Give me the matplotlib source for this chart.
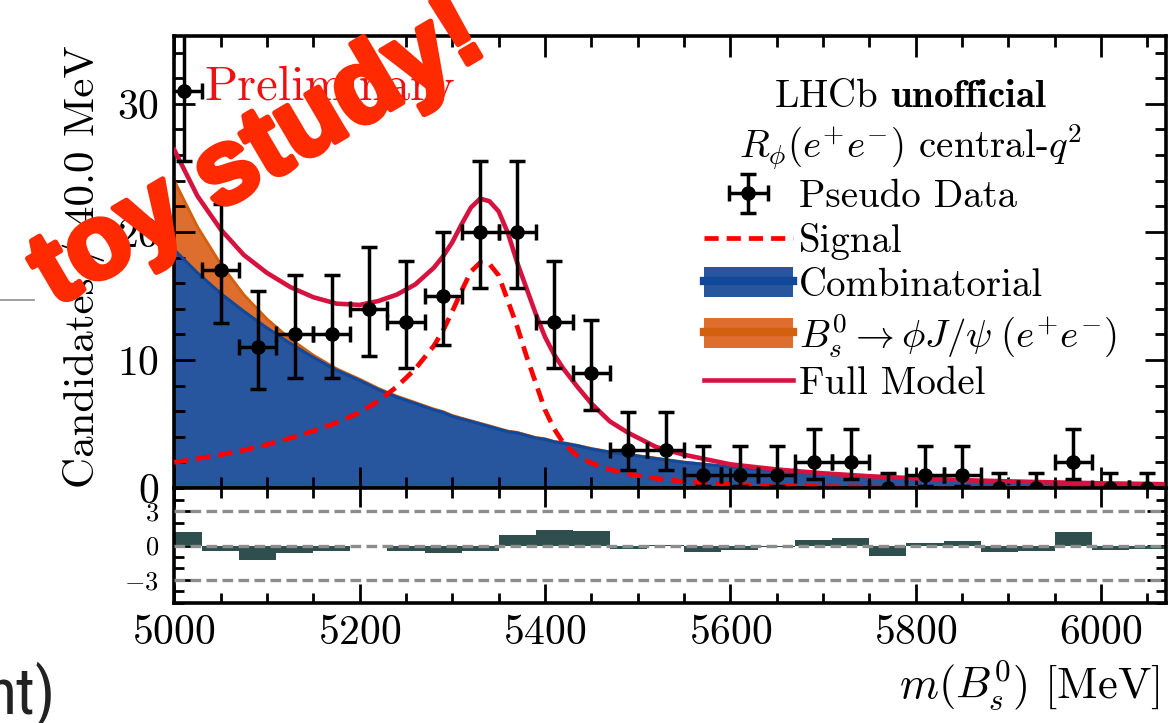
import numpy as np
import matplotlib
matplotlib.use('Agg')
import matplotlib.pyplot as plt
import matplotlib.patheffects as pe
from matplotlib.lines import Line2D
from matplotlib.patches import Patch
from matplotlib.ticker import MultipleLocator

# pseudo data, 40 MeV bins (first bin clipped at 5000)
bin_centres = [5010, 5050, 5090, 5130, 5170, 5210, 5250, 5290, 5330, 5370,
               5410, 5450, 5490, 5530, 5570, 5610, 5650, 5690, 5730, 5770,
               5810, 5850, 5890, 5930, 5970, 6010, 6050]
counts = [31, 17, 11, 12, 12, 14, 13, 15, 20, 20,
          13, 9, 3, 3, 1, 1, 1, 2, 2, 0,
          1, 1, 0, 0, 2, 0, 0]
err_low = [5.5, 4.1, 3.3, 3.4, 3.4, 3.7, 3.6, 3.8, 4.4, 4.4,
           3.6, 2.9, 1.6, 1.6, 0.83, 0.83, 0.83, 1.3, 1.3, 0.0,
           0.83, 0.83, 0.0, 0.0, 1.3, 0.0, 0.0]
err_high = [6.6, 5.2, 4.4, 4.6, 4.6, 4.8, 4.7, 5.0, 5.5, 5.5,
            4.7, 4.1, 2.9, 2.9, 2.3, 2.3, 2.3, 2.6, 2.6, 1.15,
            2.3, 2.3, 1.15, 1.15, 2.6, 1.15, 1.15]
pulls = [1.17, -0.44, -1.25, -0.64, -0.5, -0.05, -0.52, -0.67, -0.44, 0.93,
         1.37, 1.25, -0.29, 0.03, -0.6, -0.38, -0.15, 0.5, 0.67, -0.88,
         0.23, 0.35, -0.53, -0.44, 1.17, -0.35, -0.3]

# fit components
mass_curve = [5000, 5025, 5050, 5075, 5100, 5125, 5150, 5175, 5200, 5220,
              5240, 5260, 5280, 5290, 5300, 5310, 5320, 5330, 5340, 5350,
              5360, 5370, 5380, 5390, 5400, 5410, 5420, 5435, 5450, 5470,
              5490, 5520, 5550, 5600, 5650, 5700, 5750, 5800, 5850, 5900,
              5950, 6000, 6070]
comb_curve = [18.6, 16.8, 15.2, 13.8, 12.5, 11.3, 10.2, 9.2, 8.4, 7.7,
              7.1, 6.6, 6.1, 5.9, 5.6, 5.4, 5.2, 5.0, 4.8, 4.6,
              4.4, 4.3, 4.1, 3.9, 3.8, 3.6, 3.5, 3.3, 3.05, 2.8,
              2.6, 2.3, 2.0, 1.65, 1.35, 1.1, 0.9, 0.75, 0.6, 0.5,
              0.4, 0.34, 0.26]
bs_jpsi_curve = [5.4, 3.6, 2.3, 1.3, 0.7, 0.35, 0.18, 0.12, 0.1, 0.09,
                 0.08, 0.08, 0.07, 0.07, 0.07, 0.06, 0.06, 0.06, 0.06, 0.05,
                 0.05, 0.05, 0.05, 0.05, 0.05, 0.04, 0.04, 0.04, 0.04, 0.03,
                 0.03, 0.03, 0.03, 0.02, 0.02, 0.02, 0.02, 0.02, 0.01, 0.01,
                 0.01, 0.01, 0.01]
signal_curve = [2.0, 2.3, 2.6, 2.95, 3.4, 3.9, 4.45, 5.1, 5.9, 6.8,
                7.9, 9.3, 11.1, 12.3, 13.8, 15.4, 16.9, 17.6, 17.5, 16.6,
                14.6, 12.6, 10.3, 8.2, 6.1, 4.6, 3.5, 2.5, 1.95, 1.45,
                1.1, 0.75, 0.5, 0.28, 0.17, 0.11, 0.07, 0.05, 0.04, 0.03,
                0.02, 0.02, 0.01]
full_curve = [26.4, 22.8, 20.2, 18.2, 16.8, 15.7, 14.9, 14.4, 14.3, 14.6,
              15.1, 15.9, 17.2, 18.1, 19.2, 20.6, 21.9, 22.6, 22.4, 21.6,
              19.9, 17.6, 15.6, 13.6, 11.8, 10.4, 9.3, 7.9, 6.6, 5.2,
              4.3, 3.2, 2.6, 1.85, 1.45, 1.15, 0.92, 0.76, 0.62, 0.52,
              0.44, 0.37, 0.3]

COMB = '#27569e'
COMB_LINE = '#124899'
ORANGE = '#dd6e2d'
ORANGE_LINE = '#d2600f'
FULL = '#d6133f'
PULL = '#2f4f4f'
TOY = '#ff2a00'

plt.rcParams.update({
    'font.family': 'serif',
    'font.serif': ['cmr10'],
    'mathtext.fontset': 'cm',
    'axes.formatter.use_mathtext': True,
    'axes.linewidth': 2.6,
})

fig = plt.figure(figsize=(11.73, 7.23), dpi=100)
ax = fig.add_axes([0.1486, 0.325, 0.8454, 0.6252])
rax = fig.add_axes([0.1486, 0.166, 0.8454, 0.159], sharex=ax)

stack = np.add(comb_curve, bs_jpsi_curve)
ax.fill_between(mass_curve, 0, comb_curve, color=COMB, lw=0, zorder=1)
ax.fill_between(mass_curve, comb_curve, stack, color=ORANGE, lw=0, zorder=1)
ax.plot(mass_curve, stack, color=ORANGE_LINE, lw=2.0, zorder=2)
ax.plot(mass_curve, comb_curve, color=COMB_LINE, lw=2.2, zorder=2)
sig, = ax.plot(mass_curve, signal_curve, color='#ff0000', lw=3.4,
               ls=(0, (3.0, 1.7)), zorder=3)
full, = ax.plot(mass_curve, full_curve, color=FULL, lw=3.3, zorder=3.5)
data = ax.errorbar(bin_centres, counts, xerr=20, yerr=[err_low, err_high],
                   fmt='o', color='k', ms=9.5, elinewidth=2.5, capsize=5.5,
                   capthick=2.5, zorder=4)

comb_h = (Patch(fc=COMB, ec='none'), Line2D([], [], color=COMB_LINE, lw=6))
bs_h = (Patch(fc=ORANGE, ec='none'), Line2D([], [], color=ORANGE_LINE, lw=6))
leg = ax.legend([data, sig, comb_h, bs_h, full],
                ['Pseudo Data', 'Signal', 'Combinatorial',
                 r'$B_s^0 \to \phi J/\psi\;(e^{+}e^{-})$', 'Full Model'],
                title='LHCb $\\mathbf{unofficial}$\n$R_{\\phi}(e^{+}e^{-})$ central-$q^{2}$',
                loc='upper right', bbox_to_anchor=(0.978, 0.965), frameon=False,
                fontsize=28, title_fontsize=28, handlelength=2.3,
                handleheight=0.8, handletextpad=0.15, labelspacing=0.19,
                borderpad=0.2)
leg.get_title().set_multialignment('center')

ax.text(0.03, 0.885, 'Preliminary', transform=ax.transAxes, color='#ee1111',
        fontsize=35, va='center')

ax.set_xlim(5000, 6070)
ax.set_ylim(0, 35.3)
ax.xaxis.set_major_locator(MultipleLocator(200))
ax.xaxis.set_minor_locator(MultipleLocator(50))
ax.yaxis.set_major_locator(MultipleLocator(10))
ax.yaxis.set_minor_locator(MultipleLocator(2))
ax.tick_params(which='both', direction='in', top=True, right=True,
               labelbottom=False, width=2)
ax.tick_params(which='major', length=15, labelsize=30, pad=11)
ax.tick_params(which='minor', length=8)
ax.set_ylabel('Candidates / 40.0 MeV', fontsize=31)
ax.yaxis.set_label_coords(-0.07, 0.49)

# pull panel
rax.bar(bin_centres, pulls, width=40, color=PULL, lw=0, zorder=2)
for level in (-3, 0, 3):
    rax.axhline(level, color='#8c8c8c', lw=2.4, ls=(0, (3.2, 1.6)), zorder=3)
rax.set_ylim(-5, 5)
rax.yaxis.set_major_locator(MultipleLocator(3))
rax.yaxis.set_minor_locator(MultipleLocator(1))
rax.tick_params(which='both', direction='in', top=True, right=True, width=2)
rax.tick_params(which='major', length=14, pad=8)
rax.tick_params(which='minor', length=7)
rax.tick_params(axis='x', labelsize=30)
rax.tick_params(axis='y', labelsize=19, pad=11)

fig.text(0.989, 0.053, '$m(B_s^0)$ [MeV]', ha='right', va='center', fontsize=32)

# slide overlays
fig.text(0.232, 0.752, 'toy study!', rotation=30.5, rotation_mode='anchor',
         ha='center', va='baseline', fontsize=76, fontweight='bold',
         family='Liberation Sans', color=TOY, zorder=10,
         path_effects=[pe.withStroke(linewidth=4, foreground=TOY)])
fig.text(-0.012, 0.0125, 'nt)', fontsize=46,
         family=['Roboto Condensed', 'Roboto'], color='#222222',
         ha='left', va='baseline')
fig.add_artist(Line2D([0, 34 / 1173], [1 - 300 / 723] * 2, color='#999999',
                      lw=1.3, transform=fig.transFigure))

fig.savefig('out.png', dpi=100)
